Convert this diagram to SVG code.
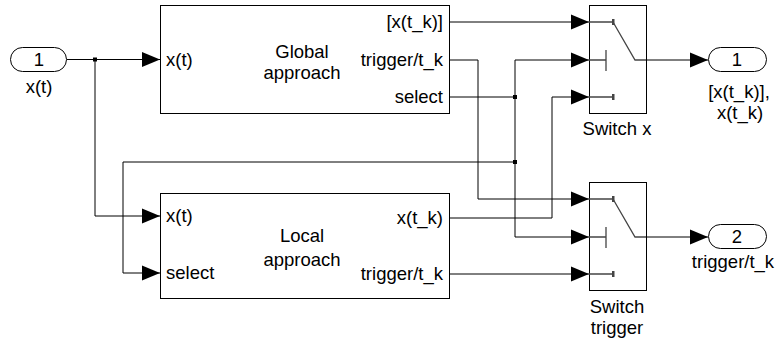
<svg xmlns="http://www.w3.org/2000/svg" width="779" height="343" viewBox="0 0 779 343">
<style>
text{font-family:"Liberation Sans",Arial,sans-serif;font-size:18.5px;fill:#000}
.blk{fill:#fff;stroke:#000;stroke-width:1}
.port{fill:#fff;stroke:#000;stroke-width:1}
.w{fill:none;stroke:#000;stroke-width:1}
.sw{fill:none;stroke:#444;stroke-width:1.3}
.m{text-anchor:middle}
.e{text-anchor:end}
</style>
<defs>
<marker id="arr" markerUnits="userSpaceOnUse" markerWidth="18" markerHeight="16" refX="18" refY="8" orient="auto">
<path d="M0,0.5 L18,8 L0,15.5 z" fill="#000"/>
</marker>
</defs>
<g id="connectors">
<path class="w" d="M67,59.5 H160" marker-end="url(#arr)"/>
<path class="w" d="M95,59.5 V216 H160" marker-end="url(#arr)"/>
<path class="w" d="M449,22 H589" marker-end="url(#arr)"/>
<path class="w" d="M449,60 H478 V199 H589" marker-end="url(#arr)"/>
<path class="w" d="M449,97 H515"/>
<path class="w" d="M515,60 V237"/>
<path class="w" d="M515,60 H589" marker-end="url(#arr)"/>
<path class="w" d="M515,237 H589" marker-end="url(#arr)"/>
<path class="w" d="M515,162 H123 V273 H160" marker-end="url(#arr)"/>
<path class="w" d="M449,218 H552 V97 H589" marker-end="url(#arr)"/>
<path class="w" d="M449,274 H589" marker-end="url(#arr)"/>
<path class="w" d="M646,60 H708" marker-end="url(#arr)"/>
<path class="w" d="M646,237 H708" marker-end="url(#arr)"/>
<rect x="93" y="57.5" width="4" height="4" fill="#000"/>
<rect x="513" y="95" width="4" height="4" fill="#000"/>
<rect x="513" y="160" width="4" height="4" fill="#000"/>
</g>
<g id="in1">
<rect class="port" x="10.5" y="47.5" width="56" height="24" rx="12" ry="12"/>
<text class="m" x="39" y="66">1</text>
<text class="m" x="39" y="93">x(t)</text>
</g>
<g id="global">
<rect class="blk" x="160.5" y="5.5" width="289" height="108"/>
<text x="166" y="66">x(t)</text>
<text class="m" x="302" y="58">Global</text>
<text class="m" x="302" y="79">approach</text>
<text class="e" x="443" y="28">[x(t_k)]</text>
<text class="e" x="443" y="66">trigger/t_k</text>
<text class="e" x="443" y="103">select</text>
</g>
<g id="local">
<rect class="blk" x="160.5" y="193.5" width="289" height="105"/>
<text x="166" y="222">x(t)</text>
<text x="166" y="279">select</text>
<text class="m" x="302" y="242">Local</text>
<text class="m" x="302" y="266">approach</text>
<text class="e" x="443" y="224">x(t_k)</text>
<text class="e" x="443" y="280">trigger/t_k</text>
</g>
<g id="switchx">
<rect class="blk" x="589.5" y="5.5" width="57" height="108"/>
<path class="sw" d="M589,22 H613 M613,22 L635,60 H646 M589,60 H606 M606,50 V71 M589,97 H613"/>
<rect x="612" y="19" width="2.5" height="6" fill="#444"/>
<rect x="612" y="94" width="2.5" height="6" fill="#444"/>
<text class="m" x="617" y="135">Switch x</text>
</g>
<g id="switchtrigger">
<rect class="blk" x="589.5" y="182.5" width="57" height="108"/>
<path class="sw" d="M589,199 H613 M613,199 L635,237 H646 M589,237 H606 M606,227 V248 M589,274 H613"/>
<rect x="612" y="196" width="2.5" height="6" fill="#444"/>
<rect x="612" y="271" width="2.5" height="6" fill="#444"/>
<text class="m" x="617" y="313">Switch</text>
<text class="m" x="617" y="334">trigger</text>
</g>
<g id="out1">
<rect class="port" x="708.5" y="47.5" width="58" height="24" rx="12" ry="12"/>
<text class="m" x="737" y="66">1</text>
<text class="m" x="739" y="98">[x(t_k)],</text>
<text class="m" x="740" y="119">x(t_k)</text>
</g>
<g id="out2">
<rect class="port" x="708.5" y="224.5" width="58" height="24" rx="12" ry="12"/>
<text class="m" x="737" y="243">2</text>
<text class="m" x="733" y="268">trigger/t_k</text>
</g>
</svg>
